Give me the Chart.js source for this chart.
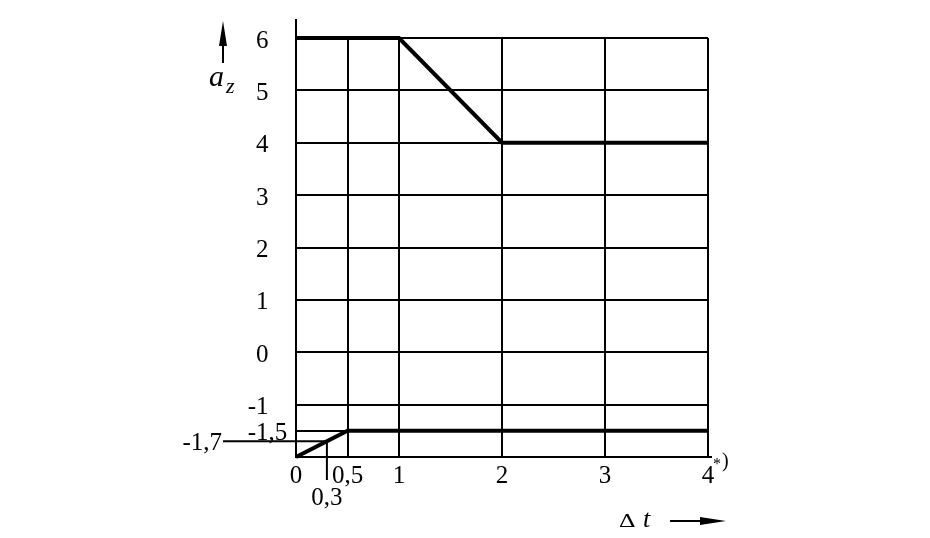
<!DOCTYPE html>
<html>
<head>
<meta charset="utf-8">
<script src="https://cdn.jsdelivr.net/npm/chart.js@4/dist/chart.umd.min.js"></script>
<style>
  html, body { margin: 0; padding: 0; background: #fff; }
  #wrap { width: 930px; height: 538px; position: relative; }
</style>
</head>
<body>
<div id="wrap"><canvas id="c" width="930" height="538"></canvas></div>
<script>
// ---- data ----
const upperX = [0, 1, 2, 4];
const upperY = [6, 6, 4, 4];
const lowerX = [0, 0.5, 4];
const lowerY = [-2, -1.5, -1.5];

const xTicks = [0, 0.5, 1, 2, 3, 4];
const xTickLabels = ['0', '0,5', '1', '2', '3', '4'];
const yTicks = [-2, -1.5, -1, 0, 1, 2, 3, 4, 5, 6];
const yTickLabels = ['', '-1,5', '-1', '0', '1', '2', '3', '4', '5', '6'];

const markX = 0.3, markXLabel = '0,3';
const markY = -1.7, markYLabel = '-1,7';

const yAxisTitle = ['a', 'z'];
const xAxisTitle = ['\u0394', 't'];
const footnote = ['*', ')'];

const FONT = '"Liberation Serif", "Times New Roman", serif';

const annot = {
  id: 'annot',
  afterDraw(chart) {
    const ctx = chart.ctx;
    const xs = chart.scales.x, ys = chart.scales.y;
    const ca = chart.chartArea;
    ctx.save();
    ctx.fillStyle = '#000';
    ctx.strokeStyle = '#000';

    // y axis extension above
    ctx.lineWidth = 2;
    ctx.beginPath();
    ctx.moveTo(ca.left, ca.top);
    ctx.lineTo(ca.left, ca.top - 19);
    ctx.stroke();
    // x axis small overshoot to the right
    ctx.beginPath();
    ctx.moveTo(ca.right, ca.bottom);
    ctx.lineTo(ca.right + 4, ca.bottom);
    ctx.stroke();

    // y tick labels
    ctx.font = '25px ' + FONT;
    ctx.textAlign = 'left';
    ctx.textBaseline = 'alphabetic';
    const minusW = ctx.measureText('-').width;
    yTicks.forEach((v, i) => {
      const t = yTickLabels[i];
      if (!t) return;
      const y = ys.getPixelForValue(v);
      const x = t.startsWith('-') ? 256 - minusW : 256;
      ctx.fillText(t, x, y + 9.5);
    });

    // x tick labels
    ctx.textAlign = 'center';
    xTicks.forEach((v, i) => {
      ctx.fillText(xTickLabels[i], xs.getPixelForValue(v), ca.bottom + 26);
    });

    // -1,7 mark
    const my = ys.getPixelForValue(markY);
    const mx = xs.getPixelForValue(markX);
    ctx.textAlign = 'right';
    ctx.fillText(markYLabel, 222, my + 8.5);
    ctx.lineWidth = 2;
    ctx.beginPath();
    ctx.moveTo(223, my);
    ctx.lineTo(mx, my);
    ctx.stroke();
    // 0,3 mark
    ctx.beginPath();
    ctx.moveTo(mx, my);
    ctx.lineTo(mx, ca.bottom + 23);
    ctx.stroke();
    ctx.textAlign = 'center';
    ctx.fillText(markXLabel, mx, ca.bottom + 48);

    // y axis title a_z with up arrow
    ctx.textAlign = 'left';
    ctx.font = 'italic 30px ' + FONT;
    ctx.fillText(yAxisTitle[0], 209, 86);
    ctx.font = 'italic 22px ' + FONT;
    ctx.fillText(yAxisTitle[1], 226, 93);
    ctx.lineWidth = 2;
    ctx.beginPath();
    ctx.moveTo(223, 63);
    ctx.lineTo(223, 40);
    ctx.stroke();
    ctx.beginPath();
    ctx.moveTo(223, 21);
    ctx.lineTo(227, 46);
    ctx.lineTo(219, 46);
    ctx.closePath();
    ctx.fill();

    // x axis title Δt with right arrow
    ctx.save();
    ctx.translate(619, 527);
    ctx.scale(1.35, 1);
    ctx.font = '19px ' + FONT;
    ctx.fillText(xAxisTitle[0], 0, 0);
    ctx.restore();
    ctx.font = 'italic 26px ' + FONT;
    ctx.fillText(xAxisTitle[1], 643, 527);
    ctx.beginPath();
    ctx.moveTo(670, 521);
    ctx.lineTo(705, 521);
    ctx.stroke();
    ctx.beginPath();
    ctx.moveTo(726, 521);
    ctx.lineTo(700, 517);
    ctx.lineTo(700, 525);
    ctx.closePath();
    ctx.fill();

    // footnote *)
    ctx.font = '16px ' + FONT;
    ctx.fillText(footnote[0], 713, 469);
    ctx.font = '20px ' + FONT;
    ctx.fillText(footnote[1], 722, 467);

    ctx.restore();
  }
};

new Chart(document.getElementById('c'), {
  type: 'line',
  data: {
    datasets: [
      {
        data: upperX.map((x, i) => ({ x, y: upperY[i] })),
        borderColor: '#000', borderWidth: 4, pointRadius: 0, fill: false,
        tension: 0, clip: false, borderCapStyle: 'butt', borderJoinStyle: 'miter'
      },
      {
        data: lowerX.map((x, i) => ({ x, y: lowerY[i] })),
        borderColor: '#000', borderWidth: 4, pointRadius: 0, fill: false,
        tension: 0, clip: false, borderCapStyle: 'butt', borderJoinStyle: 'miter'
      }
    ]
  },
  options: {
    responsive: false,
    animation: false,
    devicePixelRatio: 1,
    layout: { padding: { left: 296, right: 222, top: 38, bottom: 81 } },
    plugins: { legend: { display: false }, tooltip: { enabled: false } },
    scales: {
      x: {
        type: 'linear', min: 0, max: 4,
        afterBuildTicks: s => { s.ticks = xTicks.map(v => ({ value: v })); },
        ticks: { display: false },
        grid: { color: '#000', lineWidth: 2, drawTicks: false },
        border: { color: '#000', width: 2 }
      },
      y: {
        type: 'linear', min: -2, max: 6,
        afterBuildTicks: s => { s.ticks = yTicks.map(v => ({ value: v })); },
        ticks: { display: false },
        grid: { color: '#000', lineWidth: 2, drawTicks: false },
        border: { color: '#000', width: 2 }
      }
    }
  },
  plugins: [annot]
});
</script>
</body>
</html>
